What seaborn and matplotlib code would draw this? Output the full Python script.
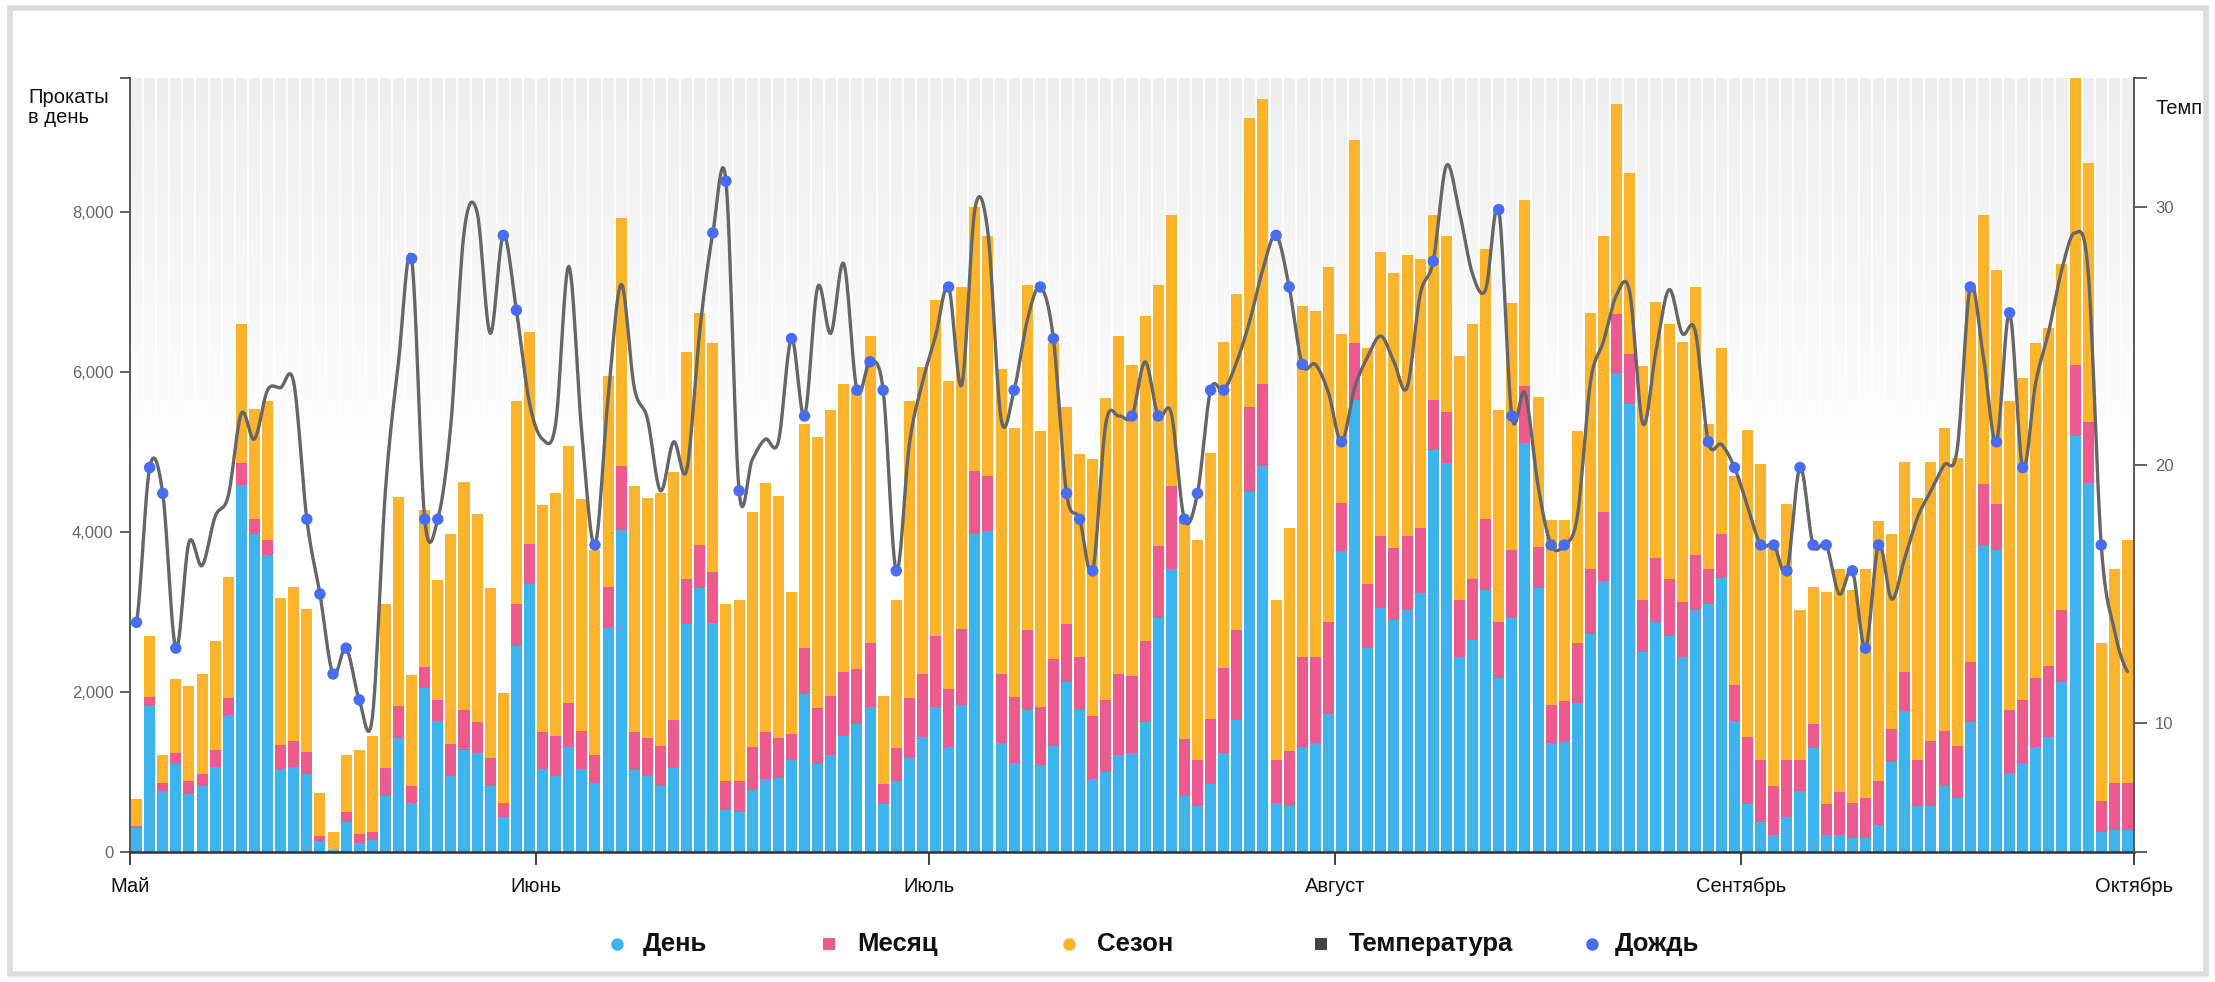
import numpy as np
import pandas as pd
import matplotlib
matplotlib.use("Agg")
import matplotlib.pyplot as plt
import seaborn as sns
from matplotlib.patches import Rectangle
from matplotlib.lines import Line2D
from matplotlib.colors import LinearSegmentedColormap

# ---------------- data ----------------
dates = pd.date_range("2012-05-01", "2012-09-30", freq="D")
month_labels = ["Май", "Июнь", "Июль", "Август", "Сентябрь", "Октябрь"]

day_rentals = [
    300, 1830, 760, 1100, 720, 830, 1065, 1710, 4590, 3970,
    3710, 1040, 1065, 975, 135, 20, 375, 115, 150, 700,
    1430, 615, 2050, 1635, 955, 1280, 1235, 825, 440, 2570,
    3345, 1040, 955, 1310, 1040, 860, 2795, 4020, 1020, 950,
    825, 1050, 2850, 3300, 2860, 525, 505, 780, 910, 925,
    1150, 1970, 1105, 1215, 1455, 1600, 1815, 600, 890, 1180,
    1440, 1815, 1310, 1840, 3970, 4010, 1360, 1115, 1775, 1085,
    1325, 2120, 1775, 910, 1000, 1215, 1235, 1620, 2925, 3540,
    700, 570, 845, 1235, 1645, 4505, 4830, 615, 570, 1310,
    1360, 1730, 3765, 5650, 2550, 3055, 2895, 3020, 3235, 5025,
    4860, 2440, 2655, 3280, 2180, 2925, 5110, 3300, 1360, 1375,
    1860, 2720, 3390, 5990, 5605, 2505, 2875, 2700, 2440, 3020,
    3105, 3430, 1635, 600, 375, 215, 440, 760, 1300, 215,
    215, 180, 180, 340, 1130, 1765, 570, 570, 825, 680,
    1620, 3830, 3775, 990, 1115, 1310, 1440, 2120, 5200, 4615,
    245, 280, 280,
]
month_rentals = [
    30, 110, 100, 140, 170, 140, 210, 210, 270, 190,
    195, 300, 320, 270, 65, 10, 130, 110, 95, 350,
    400, 210, 260, 260, 390, 500, 385, 355, 175, 535,
    500, 465, 500, 550, 475, 355, 515, 810, 485, 470,
    500, 595, 560, 540, 645, 365, 385, 530, 595, 505,
    320, 580, 690, 730, 795, 690, 800, 245, 405, 740,
    790, 885, 725, 945, 795, 690, 865, 825, 1005, 730,
    1085, 730, 665, 790, 905, 1015, 970, 1015, 905, 1035,
    710, 580, 820, 1060, 1135, 1055, 1015, 535, 690, 1130,
    1080, 1145, 595, 710, 795, 890, 905, 925, 820, 625,
    645, 710, 755, 885, 690, 850, 710, 515, 480, 510,
    755, 820, 860, 730, 625, 645, 795, 710, 690, 690,
    430, 540, 450, 840, 775, 610, 710, 390, 300, 385,
    530, 430, 500, 550, 405, 480, 580, 820, 690, 645,
    755, 775, 580, 785, 790, 870, 890, 900, 890, 765,
    390, 580, 580,
]
season_rentals = [
    330, 760, 350, 920, 1190, 1260, 1360, 1520, 1740, 1380,
    1730, 1830, 1925, 1795, 540, 215, 710, 1050, 1210, 2050,
    2610, 1390, 1970, 1500, 2625, 2840, 2600, 2120, 1375, 2530,
    2650, 2830, 3035, 3210, 2895, 2560, 2635, 3100, 3070, 3010,
    3160, 3100, 2840, 2895, 2855, 2215, 2260, 2940, 3110, 3015,
    1775, 2795, 3390, 3575, 3595, 3475, 3830, 1110, 1855, 3715,
    3830, 4195, 3850, 4275, 3295, 3000, 3810, 3360, 4310, 3450,
    3950, 2710, 2540, 3215, 3765, 4215, 3885, 4070, 3260, 3390,
    2710, 2745, 3325, 4085, 4200, 3615, 3570, 2000, 2795, 4390,
    4325, 4440, 2115, 2540, 2950, 3550, 3440, 3515, 3360, 2310,
    2195, 3055, 3195, 3375, 2650, 3090, 2335, 1875, 2310, 2270,
    2645, 3195, 3455, 2630, 2260, 2925, 3210, 3195, 3250, 3350,
    1810, 2325, 2615, 3840, 3700, 3000, 3195, 1870, 1710, 2650,
    2795, 2670, 2860, 3250, 2435, 2630, 3275, 3490, 3785, 3600,
    4680, 3355, 2925, 3860, 4020, 4180, 4225, 4325, 3585, 3230,
    1980, 2680, 3035,
]
temperature = [
    13.9, 19.9, 18.9, 12.9, 17.0, 16.1, 18.0, 18.8, 22.0, 21.0,
    22.9, 23.0, 23.2, 17.9, 15.0, 11.9, 12.9, 10.9, 10.2, 19.0,
    24.0, 28.0, 17.9, 17.9, 21.6, 29.0, 29.8, 25.1, 28.9, 26.0,
    22.4, 21.0, 21.6, 27.7, 21.2, 16.9, 22.6, 27.0, 23.0, 21.8,
    19.0, 20.9, 19.8, 25.2, 29.0, 31.0, 19.0, 20.2, 21.0, 20.9,
    24.9, 21.9, 26.9, 25.1, 27.8, 22.9, 24.0, 22.9, 15.9, 20.8,
    23.2, 25.0, 26.9, 23.1, 29.9, 29.0, 21.8, 22.9, 25.6, 26.9,
    24.9, 18.9, 17.9, 15.9, 21.6, 21.9, 21.9, 24.0, 21.9, 22.0,
    17.9, 18.9, 22.9, 22.9, 24.0, 25.6, 27.6, 28.9, 26.9, 23.9,
    23.9, 22.8, 20.9, 23.0, 24.2, 25.0, 24.0, 23.0, 26.6, 27.9,
    31.6, 29.8, 27.4, 26.8, 29.9, 21.9, 22.8, 19.2, 16.9, 16.9,
    18.0, 23.2, 24.8, 26.6, 26.7, 21.6, 24.4, 26.8, 25.1, 25.2,
    20.9, 20.8, 19.9, 18.4, 16.9, 16.9, 15.9, 19.9, 16.9, 16.9,
    15.0, 15.9, 12.9, 16.9, 14.8, 16.4, 18.0, 19.0, 20.0, 20.6,
    26.9, 24.2, 20.9, 25.9, 19.9, 23.2, 25.2, 27.6, 29.0, 27.5,
    16.9, 13.6, 12.0,
]
rain_days = [0, 1, 2, 3, 13, 14, 15, 16, 17, 21, 22, 23, 28, 29, 35, 44, 45, 46,
             50, 51, 55, 56, 57, 58, 62, 67, 69, 70, 71, 72, 73, 76, 78, 80, 81,
             82, 83, 87, 88, 89, 92, 99, 104, 105, 108, 109, 120, 122, 124, 125,
             126, 127, 128, 129, 131, 132, 133, 140, 142, 143, 144, 150]

# ---------------- styling ----------------
BLUE = "#3db4ee"
PINK = "#ec5a8e"
ORANGE = "#fbb42c"
TEMP = "#666666"
RAIN = "#4a6cf3"
W, H = 2215, 982

sns.set_theme(style="white")
plt.rcParams["font.family"] = ["Liberation Sans", "DejaVu Sans"]

n = len(day_rentals)
idx = np.arange(n)
B = np.array(day_rentals, float)
P = np.array(month_rentals, float)
S = np.array(season_rentals, float)
T = np.array(temperature, float)
total = B + P + S
ymax = total.max()

df = pd.DataFrame({"day": idx, "date": dates, "B": B, "BP": B + P, "TOT": total, "T": T})

fig = plt.figure(figsize=(W / 100, H / 100), dpi=100)
ax = fig.add_axes([130 / W, (H - 852) / H, 2004 / W, (852 - 78) / H])

# soft background gradient
grad = np.linspace(1, 0, 256).reshape(-1, 1)
cmap_bg = LinearSegmentedColormap.from_list("bg", ["#ffffff", "#ffffff", "#eeeeee"])
ax.imshow(grad, extent=[-0.5, n - 0.5, 0, ymax], aspect="auto", cmap=cmap_bg,
          origin="upper", zorder=0, vmin=0, vmax=1)
for b in idx[:-1]:
    ax.axvline(b + 0.5, color="white", lw=1.3, zorder=0.5)

bar_kw = dict(saturation=1, width=0.84, linewidth=0, errorbar=None, ax=ax, zorder=2)
sns.barplot(data=df, x="day", y="TOT", color=ORANGE, **bar_kw)
sns.barplot(data=df, x="day", y="BP", color=PINK, **bar_kw)
sns.barplot(data=df, x="day", y="B", color=BLUE, **bar_kw)

# temperature line (Catmull-Rom smoothing through daily values)
ax2 = ax.twinx()
xs, ys = [], []
steps = 12
for i in range(n - 1):
    p0 = T[i - 1] if i > 0 else T[i]
    p1, p2 = T[i], T[i + 1]
    p3 = T[i + 2] if i + 2 < n else T[i + 1]
    t = np.linspace(0, 1, steps, endpoint=False)
    y = 0.5 * (2 * p1 + (-p0 + p2) * t + (2 * p0 - 5 * p1 + 4 * p2 - p3) * t ** 2
               + (-p0 + 3 * p1 - 3 * p2 + p3) * t ** 3)
    xs.extend(i + t)
    ys.extend(y)
xs.append(n - 1)
ys.append(T[-1])
curve = pd.DataFrame({"x": xs, "y": ys})
sns.lineplot(data=curve, x="x", y="y", ax=ax2, color=TEMP, lw=2.4, sort=False,
             estimator=None, zorder=3)
rain = df.loc[rain_days]
sns.scatterplot(data=rain, x="day", y="T", ax=ax2, color=RAIN, s=68,
                edgecolor="none", zorder=4)

# axes limits & ticks
ax.set_xlim(-0.5, n - 0.5)
ax2.set_xlim(-0.5, n - 0.5)
ax.set_ylim(0, ymax)
ax2.set_ylim(5, 35)

month_pos = [-0.5]
for d in range(1, n):
    if dates[d].day == 1:
        month_pos.append(d - 0.5)
month_pos.append(n - 0.5)
ax.set_xticks(month_pos)
ax.set_xticklabels(month_labels)
ax.tick_params(axis="x", length=9, width=1.3, color="#333333", pad=9,
               labelsize=14.5, labelcolor="#111111", bottom=True)

yt = [0, 2000, 4000, 6000, 8000, ymax]
ax.set_yticks(yt)
ax.set_yticklabels([f"{v:,.0f}" for v in yt[:-1]] + [""])
ax.tick_params(axis="y", length=7, width=1.3, color="#555555", pad=5,
               labelsize=12, labelcolor="#666666", left=True)

ax2.set_yticks([5, 10, 20, 30, 35])
ax2.set_yticklabels(["", "10", "20", "30", ""])
ax2.tick_params(axis="y", length=9, width=1.3, color="#555555", pad=6,
                labelsize=12, labelcolor="#666666", right=True)
ax.set_xlabel("")
ax.set_ylabel("")
ax2.set_xlabel("")
ax2.set_ylabel("")

for a in (ax, ax2):
    a.spines["top"].set_visible(False)
ax.spines["left"].set_color("#555555")
ax.spines["left"].set_linewidth(1.4)
ax.spines["bottom"].set_color("#333333")
ax.spines["bottom"].set_linewidth(1.8)
ax.spines["right"].set_visible(False)
ax2.spines["left"].set_visible(False)
ax2.spines["bottom"].set_visible(False)
ax2.spines["right"].set_color("#555555")
ax2.spines["right"].set_linewidth(1.4)
ax.grid(False)
ax2.grid(False)

# axis titles
fig.text(28 / W, 1 - 88 / H, "Прокаты\nв день", ha="left", va="top",
         fontsize=14.5, color="#111111", linespacing=1.05)
fig.text(2155 / W, 1 - 109 / H, "Темп", ha="left", va="center",
         fontsize=14.5, color="#111111")

# legend
legend_items = [
    (617, 643, "День", BLUE, "o"),
    (829, 857, "Месяц", PINK, "s"),
    (1069, 1097, "Сезон", ORANGE, "o"),
    (1321, 1349, "Температура", "#444444", "s"),
    (1592, 1615, "Дождь", RAIN, "o"),
]
ly = 1 - 944 / H
for mx, tx, label, col, mk in legend_items:
    fig.add_artist(Line2D([mx / W], [ly], transform=fig.transFigure, marker=mk,
                          markersize=9, color=col, markeredgewidth=0, linestyle="none"))
    fig.text(tx / W, ly, label, ha="left", va="center", fontsize=18.5,
             fontweight="bold", color="#111111")

# outer frame
fig.add_artist(Rectangle((10 / W, 8 / H), (2206 - 10) / W, (974 - 8) / H,
                         transform=fig.transFigure, fill=False,
                         edgecolor="#dcdcdc", linewidth=4))

fig.savefig("out.png", dpi=100)
